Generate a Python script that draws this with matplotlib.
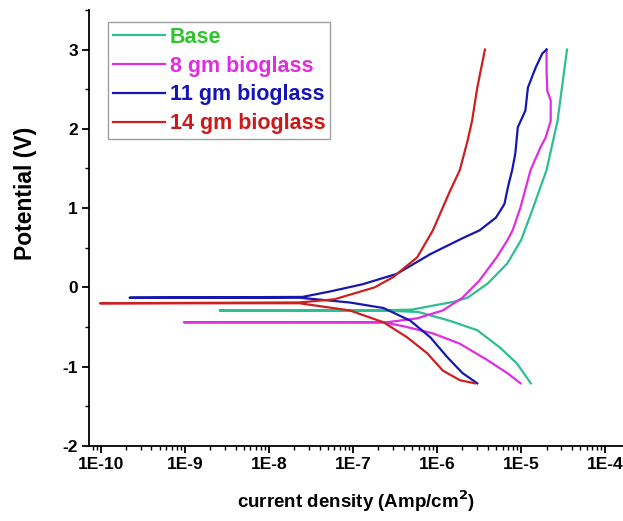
import matplotlib
matplotlib.use("Agg")
import matplotlib.pyplot as plt
import matplotlib.ticker as mticker
import numpy as np

plt.rcParams['font.family'] = ['Liberation Sans', 'DejaVu Sans']
plt.rcParams['font.weight'] = 'bold'
plt.rcParams['axes.unicode_minus'] = False

labels = ["Base", "8 gm bioglass", "11 gm bioglass", "14 gm bioglass"]
line_colors = ["#2dbf8f", "#dd2ee0", "#1717b0", "#cc2020"]
text_colors = ["#2ec42e", "#dd2ee0", "#1515b5", "#cc1a1a"]

# Base: cathodic (bottom -> Ecorr), minimum, anodic (Ecorr -> top)
base_i = [1.3e-5, 8.9e-6, 5.6e-6, 3.0e-6, 1.4e-6, 6.0e-7, 2.0e-7, 2.6e-9,
          2.0e-7, 5.0e-7, 8.9e-7, 1.6e-6, 2.3e-6, 4.0e-6, 6.8e-6, 1.0e-5,
          1.38e-5, 2.0e-5, 2.7e-5, 3.5e-5]
base_e = [-1.21, -0.96, -0.76, -0.54, -0.42, -0.31, -0.29, -0.29,
          -0.29, -0.28, -0.23, -0.18, -0.13, 0.05, 0.30, 0.60,
          1.00, 1.48, 2.10, 3.00]

gm8_i = [9.8e-6, 6.8e-6, 4.0e-6, 1.86e-6, 8.9e-7, 4.0e-7, 2.3e-7, 1.0e-7, 9.8e-10,
         2.5e-7, 5.8e-7, 1.17e-6, 2.0e-6, 3.2e-6, 5.1e-6, 6.8e-6, 7.9e-6, 9.8e-6,
         1.29e-5, 1.7e-5, 1.95e-5, 2.24e-5, 2.24e-5, 2.04e-5, 2.0e-5, 2.0e-5]
gm8_e = [-1.21, -1.08, -0.92, -0.71, -0.58, -0.49, -0.44, -0.44, -0.44,
         -0.44, -0.39, -0.29, -0.13, 0.09, 0.38, 0.59, 0.72, 1.01,
         1.48, 1.77, 1.89, 2.10, 2.36, 2.48, 2.74, 3.00]

gm11_i = [3.0e-6, 2.0e-6, 1.32e-6, 8.3e-7, 4.8e-7, 2.3e-7, 9.1e-8, 2.3e-8, 2.2e-10,
          2.5e-8, 5.4e-8, 1.3e-7, 3.3e-7, 8.3e-7, 2.0e-6, 3.2e-6, 5.0e-6, 6.3e-6,
          7.0e-6, 7.8e-6, 8.5e-6, 9.1e-6, 1.12e-5, 1.2e-5, 1.48e-5, 1.78e-5, 2.0e-5]
gm11_e = [-1.21, -1.08, -0.88, -0.63, -0.42, -0.26, -0.19, -0.13, -0.13,
          -0.12, -0.05, 0.04, 0.17, 0.42, 0.62, 0.72, 0.88, 1.05,
          1.28, 1.48, 1.69, 2.02, 2.23, 2.52, 2.77, 2.95, 3.00]

gm14_i = [2.8e-6, 1.86e-6, 1.17e-6, 7.6e-7, 4.4e-7, 2.3e-7, 9.1e-8, 2.3e-8, 9.8e-11,
          2.3e-8, 6.0e-8, 1.8e-7, 3.0e-7, 5.8e-7, 8.9e-7, 1.4e-6, 1.86e-6, 2.3e-6,
          2.6e-6, 3.0e-6, 3.7e-6]
gm14_e = [-1.21, -1.17, -1.05, -0.83, -0.63, -0.44, -0.29, -0.20, -0.20,
          -0.19, -0.15, 0.00, 0.13, 0.38, 0.72, 1.20, 1.48, 1.85,
          2.10, 2.52, 3.00]

x_ticks = [1e-10, 1e-9, 1e-8, 1e-7, 1e-6, 1e-5, 1e-4]
x_tick_labels = ["1E-10", "1E-9", "1E-8", "1E-7", "1E-6", "1E-5", "1E-4"]
y_ticks = [-2, -1, 0, 1, 2, 3]

fig = plt.figure(figsize=(6.23, 5.21), dpi=100)
ax = fig.add_axes([0.1429, 0.144, 1 - 0.1429, 0.837])

series = [(base_i, base_e), (gm8_i, gm8_e), (gm11_i, gm11_e), (gm14_i, gm14_e)]
handles = []
for (xi, ye), lab, c in zip(series, labels, line_colors):
    h, = ax.plot(xi, ye, color=c, lw=1.6, label=lab, solid_joinstyle='round')
    handles.append(h)

ax.set_xscale('log')
ax.set_xlim(10 ** -10.14, 10 ** -3.79)
ax.set_ylim(-2, 3.5)

ax.xaxis.set_major_locator(mticker.FixedLocator(x_ticks))
ax.xaxis.set_major_formatter(mticker.FixedFormatter(x_tick_labels))
ax.xaxis.set_minor_locator(mticker.LogLocator(base=10, subs=np.arange(2, 10), numticks=20))
ax.xaxis.set_minor_formatter(mticker.NullFormatter())
ax.yaxis.set_major_locator(mticker.FixedLocator(y_ticks))
ax.yaxis.set_minor_locator(mticker.MultipleLocator(0.5))

for s in ['top', 'right']:
    ax.spines[s].set_visible(False)
for s in ['left', 'bottom']:
    ax.spines[s].set_linewidth(1.3)

ax.tick_params(axis='both', which='major', direction='out', length=5, width=1.3,
               labelsize=12.5, pad=3)
ax.tick_params(axis='both', which='minor', direction='out', length=3, width=1.0)
for lbl in ax.get_xticklabels() + ax.get_yticklabels():
    lbl.set_fontweight('bold')

ax.set_xlabel("current density (Amp/cm$^\\mathbf{2}$)", fontsize=13.5, fontweight='bold', labelpad=12)
ax.set_ylabel("Potential (V)", fontsize=16.5, fontweight='bold')
ax.yaxis.set_label_coords(-0.097, 0.58)

leg = ax.legend(handles=handles, loc='upper left', bbox_to_anchor=(0.036, 0.972),
                borderaxespad=0, frameon=True, fancybox=False, edgecolor='#888888',
                handlelength=2.4, handletextpad=0.25, labelspacing=0.36,
                borderpad=0.22, prop={'weight': 'bold', 'size': 15.5})
leg.get_frame().set_linewidth(1.0)
for t, c in zip(leg.get_texts(), text_colors):
    t.set_color(c)

fig.savefig("out.png", dpi=100)
